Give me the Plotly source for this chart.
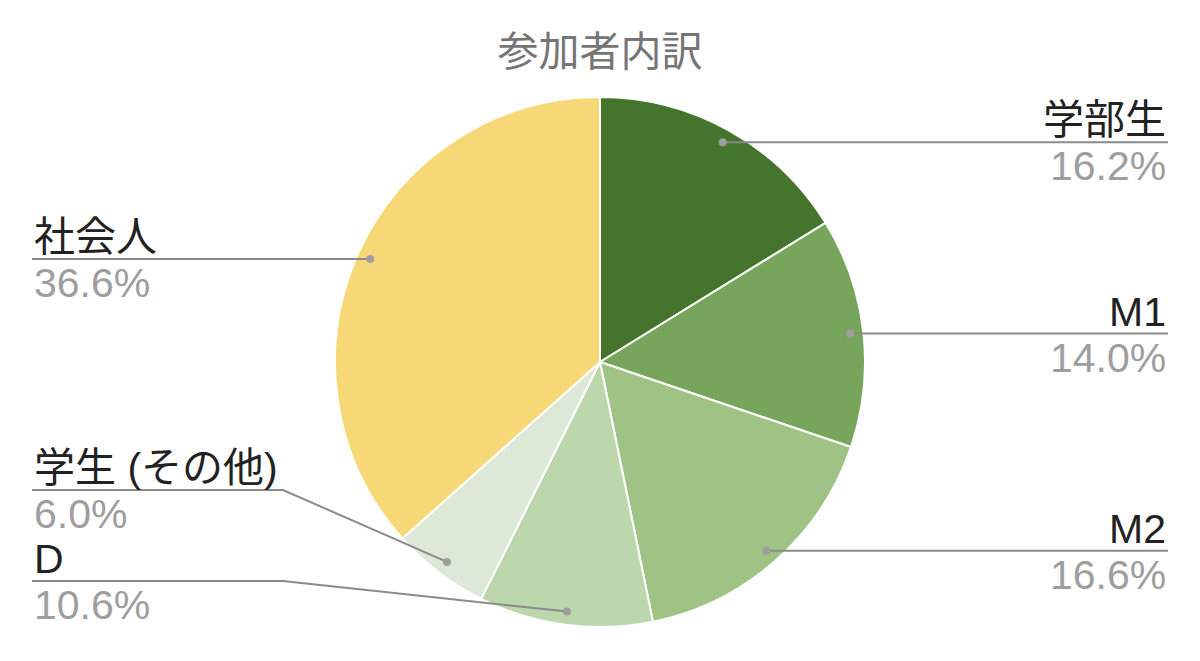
import math
import plotly.graph_objects as go

# data
labels = ["学部生", "M1", "M2", "D", "学生 (その他)", "社会人"]
values = [16.2, 14.0, 16.6, 10.6, 6.0, 36.6]
colors = ["#45752c", "#77a55b", "#9ec385", "#bdd7ad", "#dde9d6", "#f6d877"]

W, H = 1200, 661
CX, CY, R = 600, 362, 265  # pie center / radius in px
FONT = "Liberation Sans, Arial, Noto Sans CJK JP, sans-serif"
FS = 41


def px(x):
    return x / W


def py(y):
    return 1 - y / H


fig = go.Figure(go.Pie(
    labels=labels,
    values=values,
    sort=False,
    direction="clockwise",
    rotation=0,
    marker=dict(colors=colors, line=dict(color="white", width=2)),
    textinfo="none",
    hoverinfo="label+percent",
    domain=dict(x=[px(CX - R), px(CX + R)], y=[py(CY + R), py(CY - R)]),
))

# callout positions from the slice mid angles
total = sum(values)
cum = 0
items = []
for lab, v in zip(labels, values):
    mid = (cum + v / 2) / total * 2 * math.pi
    cum += v
    dx = 0.95 * R * math.sin(mid)
    dy = -0.95 * R * math.cos(mid)
    items.append(dict(label=lab, pct=v / total * 100, x=CX + dx, y=CY + dy,
                      side="right" if dx > 0 else "left"))

# push labels apart (line y), bottom limit and min spacing
GAP, BOTTOM = 91, 581
for side in ["left", "right"]:
    grp = sorted([it for it in items if it["side"] == side], key=lambda d: -d["y"])
    limit = BOTTOM
    for it in grp:
        it["ly"] = min(it["y"], limit)
        limit = it["ly"] - GAP

shapes = []
annotations = []
for it in items:
    if it["side"] == "left":
        tx, knee, anchor = 32, 283, "left"
    else:
        tx, knee, anchor = 1168, 917, "right"
    if abs(it["ly"] - it["y"]) < 1:
        path = f"M {px(tx)},{py(it['ly'])} L {px(it['x'])},{py(it['y'])}"
    else:
        path = (f"M {px(tx)},{py(it['ly'])} L {px(knee)},{py(it['ly'])} "
                f"L {px(it['x'])},{py(it['y'])}")
    shapes.append(dict(type="path", path=path, xref="paper", yref="paper",
                       line=dict(color="#8a8a8a", width=2), layer="above"))
    shapes.append(dict(type="circle", xref="paper", yref="paper",
                       x0=px(it["x"] - 4), x1=px(it["x"] + 4),
                       y0=py(it["y"] + 4), y1=py(it["y"] - 4),
                       fillcolor="#9e9e9e", line=dict(width=0), layer="above"))
    annotations.append(dict(x=px(tx), y=py(it["ly"] + 3), xref="paper", yref="paper",
                            text=it["label"], showarrow=False, xanchor=anchor,
                            yanchor="bottom", font=dict(family=FONT, size=FS, color="#222222")))
    annotations.append(dict(x=px(tx), y=py(it["ly"] - 1), xref="paper", yref="paper",
                            text=f"{it['pct']:.1f}%", showarrow=False, xanchor=anchor,
                            yanchor="top", font=dict(family=FONT, size=FS, color="#9e9e9e")))

fig.update_layout(
    width=W, height=H,
    margin=dict(l=0, r=0, t=0, b=0),
    paper_bgcolor="white",
    showlegend=False,
    title=dict(text="参加者内訳", x=0.5, xanchor="center", y=py(52), yanchor="middle",
               font=dict(family=FONT, size=FS, color="#757575")),
    shapes=shapes,
    annotations=annotations,
)

fig.write_html("out.html", config={"displayModeBar": False},
               post_script="document.body.style.margin='0';")
